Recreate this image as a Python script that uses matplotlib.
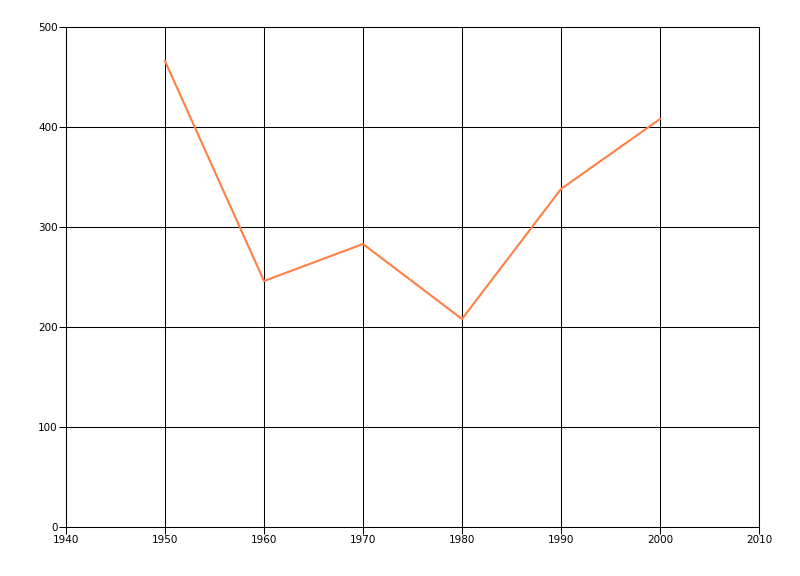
import matplotlib
matplotlib.use("Agg")
import matplotlib.pyplot as plt

years = [1950, 1960, 1970, 1980, 1990, 2000]
values = [466, 246, 283, 208, 338, 408]
x_ticks = [1940, 1950, 1960, 1970, 1980, 1990, 2000, 2010]
y_ticks = [0, 100, 200, 300, 400, 500]

fig = plt.figure(figsize=(8, 5.76), dpi=100)
ax = fig.add_axes([66/800, 49/576, (759-66)/800, (527-27)/576])
ax.plot(years, values, color="#FF7F44", linewidth=1.5, zorder=3)
ax.set_xlim(1940, 2010)
ax.set_ylim(0, 500)
ax.set_xticks(x_ticks)
ax.set_yticks(y_ticks)
ax.grid(True, color="black", linewidth=0.75)
for s in ax.spines.values():
    s.set_color("black")
    s.set_linewidth(0.75)
ax.tick_params(direction="out", length=5, width=0.75, labelsize=7.5, pad=1)
fig.savefig("out.png", dpi=100)
